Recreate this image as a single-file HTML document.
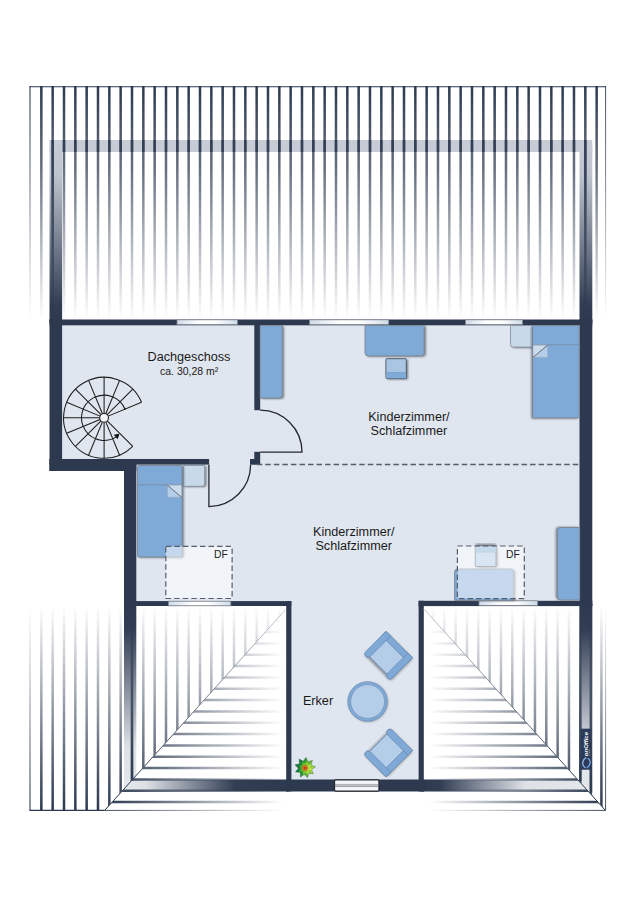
<!DOCTYPE html>
<html lang="de"><head><meta charset="utf-8"><title>Dachgeschoss Grundriss</title>
<style>html,body{margin:0;padding:0;background:#fff}svg{display:block}</style></head>
<body>
<svg width="635" height="900" viewBox="0 0 635 900">
<defs>
<linearGradient id="gTop" gradientUnits="userSpaceOnUse" x1="0" y1="86" x2="0" y2="320"><stop offset="0" stop-color="#2c394f" stop-opacity="1"/><stop offset="0.36" stop-color="#2c394f" stop-opacity="0.72"/><stop offset="1" stop-color="#2c394f" stop-opacity="0"/></linearGradient>
<linearGradient id="gBot" gradientUnits="userSpaceOnUse" x1="0" y1="810" x2="0" y2="606"><stop offset="0" stop-color="#2c394f" stop-opacity="1"/><stop offset="0.15" stop-color="#2c394f" stop-opacity="0.87"/><stop offset="1" stop-color="#2c394f" stop-opacity="0"/></linearGradient>
<linearGradient id="gL" gradientUnits="userSpaceOnUse" x1="105" y1="0" x2="284" y2="0"><stop offset="0" stop-color="#2c394f" stop-opacity="1"/><stop offset="0.15" stop-color="#2c394f" stop-opacity="0.87"/><stop offset="1" stop-color="#2c394f" stop-opacity="0"/></linearGradient>
<linearGradient id="gR" gradientUnits="userSpaceOnUse" x1="606" y1="0" x2="428" y2="0"><stop offset="0" stop-color="#2c394f" stop-opacity="1"/><stop offset="0.15" stop-color="#2c394f" stop-opacity="0.87"/><stop offset="1" stop-color="#2c394f" stop-opacity="0"/></linearGradient>
<linearGradient id="wTop" gradientUnits="userSpaceOnUse" x1="0" y1="146" x2="0" y2="320"><stop offset="0.000" stop-color="#c6cbd5"/><stop offset="0.167" stop-color="#bec4ce"/><stop offset="0.540" stop-color="#798292"/><stop offset="0.914" stop-color="#313d53"/><stop offset="1.000" stop-color="#2c394f"/></linearGradient>
<linearGradient id="wBot" gradientUnits="userSpaceOnUse" x1="0" y1="606" x2="0" y2="790"><stop offset="0.000" stop-color="#2c394f"/><stop offset="0.130" stop-color="#323e54"/><stop offset="0.451" stop-color="#88909e"/><stop offset="0.772" stop-color="#dee2e7"/><stop offset="1.000" stop-color="#e4e7ec"/></linearGradient>
<linearGradient id="wBL" gradientUnits="userSpaceOnUse" x1="124" y1="0" x2="288" y2="0"><stop offset="0.000" stop-color="#e4e7ec"/><stop offset="0.128" stop-color="#dee2e7"/><stop offset="0.402" stop-color="#88909e"/><stop offset="0.677" stop-color="#323e54"/><stop offset="1.000" stop-color="#2c394f"/></linearGradient>
<linearGradient id="wBR" gradientUnits="userSpaceOnUse" x1="422" y1="0" x2="592" y2="0"><stop offset="0.000" stop-color="#2c394f"/><stop offset="0.106" stop-color="#323e54"/><stop offset="0.353" stop-color="#88909e"/><stop offset="0.606" stop-color="#dee2e7"/><stop offset="1.000" stop-color="#e4e7ec"/></linearGradient>
<linearGradient id="win" x1="0" y1="0" x2="1" y2="0"><stop offset="0" stop-color="#cfdbe8"/><stop offset="0.38" stop-color="#ffffff"/><stop offset="0.62" stop-color="#ffffff"/><stop offset="1" stop-color="#cfdbe8"/></linearGradient>
<clipPath id="cLv"><polygon points="0,600 291,600 285.7,609.5 104.7,810.4 104.7,830 0,830"/></clipPath>
<clipPath id="cLh"><polygon points="285.7,609.5 292,609.5 292,830 104.7,830 104.7,810.4"/></clipPath>
<clipPath id="cRv"><polygon points="423.1,608 423.1,600 635,600 635,830 605.6,830 605.6,810.6"/></clipPath>
<clipPath id="cRh"><polygon points="423.1,608 605.6,810.6 605.6,830 415,830 415,608"/></clipPath>
<filter id="sh" x="-20%" y="-20%" width="140%" height="140%"><feGaussianBlur stdDeviation="0.8"/></filter>
</defs>
<rect width="635" height="900" fill="#fff"/>
<rect x="49.5" y="140" width="542.8" height="12" fill="#c6cbd5"/>
<rect x="49.5" y="146" width="12.6" height="176" fill="url(#wTop)"/>
<rect x="579.5" y="146" width="12.8" height="176" fill="url(#wTop)"/>
<rect x="124" y="604" width="12.3" height="187.5" fill="url(#wBot)"/>
<rect x="579.5" y="604" width="12.8" height="187.5" fill="url(#wBot)"/>
<rect x="124" y="779.5" width="164" height="12" fill="url(#wBL)"/>
<rect x="422" y="779.5" width="170.3" height="12" fill="url(#wBR)"/>
<polygon points="55,322 586,322 586,603 421,603 421,785 289,785 289,603 130,603 130,465 55,465" fill="#e0e6ef"/>
<rect x="49.50" y="319.50" width="12.60" height="151.50" fill="#2c394f" />
<rect x="49.50" y="319.50" width="542.80" height="5.80" fill="#2c394f" />
<rect x="579.50" y="319.50" width="12.80" height="286.50" fill="#2c394f" />
<rect x="49.50" y="459.00" width="159.60" height="5.60" fill="#2c394f" />
<rect x="49.50" y="459.00" width="86.80" height="12.00" fill="#2c394f" />
<rect x="124.00" y="459.00" width="12.30" height="147.00" fill="#2c394f" />
<rect x="124.00" y="601.10" width="167.30" height="4.90" fill="#2c394f" />
<rect x="286.20" y="601.10" width="5.20" height="190.40" fill="#2c394f" />
<rect x="286.20" y="779.50" width="138.10" height="12.00" fill="#2c394f" />
<rect x="418.60" y="600.80" width="5.20" height="190.70" fill="#2c394f" />
<rect x="418.60" y="600.80" width="173.70" height="5.30" fill="#2c394f" />
<rect x="254.30" y="325.00" width="5.90" height="85.20" fill="#2c394f" />
<rect x="254.30" y="451.80" width="5.90" height="12.90" fill="#2c394f" />
<rect x="250.00" y="459.00" width="5.00" height="5.70" fill="#2c394f" />
<line x1="30.00" y1="86" x2="30.00" y2="322" stroke="url(#gTop)" stroke-width="1.1"/>
<line x1="41.33" y1="86" x2="41.33" y2="322" stroke="url(#gTop)" stroke-width="2.5"/>
<line x1="52.67" y1="86" x2="52.67" y2="322" stroke="url(#gTop)" stroke-width="2.5"/>
<line x1="64.00" y1="86" x2="64.00" y2="322" stroke="url(#gTop)" stroke-width="2.5"/>
<line x1="75.33" y1="86" x2="75.33" y2="322" stroke="url(#gTop)" stroke-width="2.5"/>
<line x1="86.66" y1="86" x2="86.66" y2="322" stroke="url(#gTop)" stroke-width="2.5"/>
<line x1="98.00" y1="86" x2="98.00" y2="322" stroke="url(#gTop)" stroke-width="2.5"/>
<line x1="109.33" y1="86" x2="109.33" y2="322" stroke="url(#gTop)" stroke-width="2.5"/>
<line x1="120.66" y1="86" x2="120.66" y2="322" stroke="url(#gTop)" stroke-width="2.5"/>
<line x1="132.00" y1="86" x2="132.00" y2="322" stroke="url(#gTop)" stroke-width="2.5"/>
<line x1="143.33" y1="86" x2="143.33" y2="322" stroke="url(#gTop)" stroke-width="2.5"/>
<line x1="154.66" y1="86" x2="154.66" y2="322" stroke="url(#gTop)" stroke-width="2.5"/>
<line x1="166.00" y1="86" x2="166.00" y2="322" stroke="url(#gTop)" stroke-width="2.5"/>
<line x1="177.33" y1="86" x2="177.33" y2="322" stroke="url(#gTop)" stroke-width="2.5"/>
<line x1="188.66" y1="86" x2="188.66" y2="322" stroke="url(#gTop)" stroke-width="2.5"/>
<line x1="200.00" y1="86" x2="200.00" y2="322" stroke="url(#gTop)" stroke-width="2.5"/>
<line x1="211.33" y1="86" x2="211.33" y2="322" stroke="url(#gTop)" stroke-width="2.5"/>
<line x1="222.66" y1="86" x2="222.66" y2="322" stroke="url(#gTop)" stroke-width="2.5"/>
<line x1="233.99" y1="86" x2="233.99" y2="322" stroke="url(#gTop)" stroke-width="2.5"/>
<line x1="245.33" y1="86" x2="245.33" y2="322" stroke="url(#gTop)" stroke-width="2.5"/>
<line x1="256.66" y1="86" x2="256.66" y2="322" stroke="url(#gTop)" stroke-width="2.5"/>
<line x1="267.99" y1="86" x2="267.99" y2="322" stroke="url(#gTop)" stroke-width="2.5"/>
<line x1="279.33" y1="86" x2="279.33" y2="322" stroke="url(#gTop)" stroke-width="2.5"/>
<line x1="290.66" y1="86" x2="290.66" y2="322" stroke="url(#gTop)" stroke-width="2.5"/>
<line x1="301.99" y1="86" x2="301.99" y2="322" stroke="url(#gTop)" stroke-width="2.5"/>
<line x1="313.32" y1="86" x2="313.32" y2="322" stroke="url(#gTop)" stroke-width="2.5"/>
<line x1="324.66" y1="86" x2="324.66" y2="322" stroke="url(#gTop)" stroke-width="2.5"/>
<line x1="335.99" y1="86" x2="335.99" y2="322" stroke="url(#gTop)" stroke-width="2.5"/>
<line x1="347.32" y1="86" x2="347.32" y2="322" stroke="url(#gTop)" stroke-width="2.5"/>
<line x1="358.66" y1="86" x2="358.66" y2="322" stroke="url(#gTop)" stroke-width="2.5"/>
<line x1="369.99" y1="86" x2="369.99" y2="322" stroke="url(#gTop)" stroke-width="2.5"/>
<line x1="381.32" y1="86" x2="381.32" y2="322" stroke="url(#gTop)" stroke-width="2.5"/>
<line x1="392.66" y1="86" x2="392.66" y2="322" stroke="url(#gTop)" stroke-width="2.5"/>
<line x1="403.99" y1="86" x2="403.99" y2="322" stroke="url(#gTop)" stroke-width="2.5"/>
<line x1="415.32" y1="86" x2="415.32" y2="322" stroke="url(#gTop)" stroke-width="2.5"/>
<line x1="426.66" y1="86" x2="426.66" y2="322" stroke="url(#gTop)" stroke-width="2.5"/>
<line x1="437.99" y1="86" x2="437.99" y2="322" stroke="url(#gTop)" stroke-width="2.5"/>
<line x1="449.32" y1="86" x2="449.32" y2="322" stroke="url(#gTop)" stroke-width="2.5"/>
<line x1="460.65" y1="86" x2="460.65" y2="322" stroke="url(#gTop)" stroke-width="2.5"/>
<line x1="471.99" y1="86" x2="471.99" y2="322" stroke="url(#gTop)" stroke-width="2.5"/>
<line x1="483.32" y1="86" x2="483.32" y2="322" stroke="url(#gTop)" stroke-width="2.5"/>
<line x1="494.65" y1="86" x2="494.65" y2="322" stroke="url(#gTop)" stroke-width="2.5"/>
<line x1="505.99" y1="86" x2="505.99" y2="322" stroke="url(#gTop)" stroke-width="2.5"/>
<line x1="517.32" y1="86" x2="517.32" y2="322" stroke="url(#gTop)" stroke-width="2.5"/>
<line x1="528.65" y1="86" x2="528.65" y2="322" stroke="url(#gTop)" stroke-width="2.5"/>
<line x1="539.99" y1="86" x2="539.99" y2="322" stroke="url(#gTop)" stroke-width="2.5"/>
<line x1="551.32" y1="86" x2="551.32" y2="322" stroke="url(#gTop)" stroke-width="2.5"/>
<line x1="562.65" y1="86" x2="562.65" y2="322" stroke="url(#gTop)" stroke-width="2.5"/>
<line x1="573.98" y1="86" x2="573.98" y2="322" stroke="url(#gTop)" stroke-width="2.5"/>
<line x1="585.32" y1="86" x2="585.32" y2="322" stroke="url(#gTop)" stroke-width="2.5"/>
<line x1="596.65" y1="86" x2="596.65" y2="322" stroke="url(#gTop)" stroke-width="2.5"/>
<line x1="605.6" y1="86" x2="605.6" y2="322" stroke="url(#gTop)" stroke-width="0.9"/>
<line x1="52.67" y1="140" x2="52.67" y2="152" stroke="#2c394f" stroke-width="2.5" stroke-opacity="0.8"/>
<line x1="64.00" y1="140" x2="64.00" y2="152" stroke="#2c394f" stroke-width="2.5" stroke-opacity="0.8"/>
<line x1="75.33" y1="140" x2="75.33" y2="152" stroke="#2c394f" stroke-width="2.5" stroke-opacity="0.8"/>
<line x1="86.66" y1="140" x2="86.66" y2="152" stroke="#2c394f" stroke-width="2.5" stroke-opacity="0.8"/>
<line x1="98.00" y1="140" x2="98.00" y2="152" stroke="#2c394f" stroke-width="2.5" stroke-opacity="0.8"/>
<line x1="109.33" y1="140" x2="109.33" y2="152" stroke="#2c394f" stroke-width="2.5" stroke-opacity="0.8"/>
<line x1="120.66" y1="140" x2="120.66" y2="152" stroke="#2c394f" stroke-width="2.5" stroke-opacity="0.8"/>
<line x1="132.00" y1="140" x2="132.00" y2="152" stroke="#2c394f" stroke-width="2.5" stroke-opacity="0.8"/>
<line x1="143.33" y1="140" x2="143.33" y2="152" stroke="#2c394f" stroke-width="2.5" stroke-opacity="0.8"/>
<line x1="154.66" y1="140" x2="154.66" y2="152" stroke="#2c394f" stroke-width="2.5" stroke-opacity="0.8"/>
<line x1="166.00" y1="140" x2="166.00" y2="152" stroke="#2c394f" stroke-width="2.5" stroke-opacity="0.8"/>
<line x1="177.33" y1="140" x2="177.33" y2="152" stroke="#2c394f" stroke-width="2.5" stroke-opacity="0.8"/>
<line x1="188.66" y1="140" x2="188.66" y2="152" stroke="#2c394f" stroke-width="2.5" stroke-opacity="0.8"/>
<line x1="200.00" y1="140" x2="200.00" y2="152" stroke="#2c394f" stroke-width="2.5" stroke-opacity="0.8"/>
<line x1="211.33" y1="140" x2="211.33" y2="152" stroke="#2c394f" stroke-width="2.5" stroke-opacity="0.8"/>
<line x1="222.66" y1="140" x2="222.66" y2="152" stroke="#2c394f" stroke-width="2.5" stroke-opacity="0.8"/>
<line x1="233.99" y1="140" x2="233.99" y2="152" stroke="#2c394f" stroke-width="2.5" stroke-opacity="0.8"/>
<line x1="245.33" y1="140" x2="245.33" y2="152" stroke="#2c394f" stroke-width="2.5" stroke-opacity="0.8"/>
<line x1="256.66" y1="140" x2="256.66" y2="152" stroke="#2c394f" stroke-width="2.5" stroke-opacity="0.8"/>
<line x1="267.99" y1="140" x2="267.99" y2="152" stroke="#2c394f" stroke-width="2.5" stroke-opacity="0.8"/>
<line x1="279.33" y1="140" x2="279.33" y2="152" stroke="#2c394f" stroke-width="2.5" stroke-opacity="0.8"/>
<line x1="290.66" y1="140" x2="290.66" y2="152" stroke="#2c394f" stroke-width="2.5" stroke-opacity="0.8"/>
<line x1="301.99" y1="140" x2="301.99" y2="152" stroke="#2c394f" stroke-width="2.5" stroke-opacity="0.8"/>
<line x1="313.32" y1="140" x2="313.32" y2="152" stroke="#2c394f" stroke-width="2.5" stroke-opacity="0.8"/>
<line x1="324.66" y1="140" x2="324.66" y2="152" stroke="#2c394f" stroke-width="2.5" stroke-opacity="0.8"/>
<line x1="335.99" y1="140" x2="335.99" y2="152" stroke="#2c394f" stroke-width="2.5" stroke-opacity="0.8"/>
<line x1="347.32" y1="140" x2="347.32" y2="152" stroke="#2c394f" stroke-width="2.5" stroke-opacity="0.8"/>
<line x1="358.66" y1="140" x2="358.66" y2="152" stroke="#2c394f" stroke-width="2.5" stroke-opacity="0.8"/>
<line x1="369.99" y1="140" x2="369.99" y2="152" stroke="#2c394f" stroke-width="2.5" stroke-opacity="0.8"/>
<line x1="381.32" y1="140" x2="381.32" y2="152" stroke="#2c394f" stroke-width="2.5" stroke-opacity="0.8"/>
<line x1="392.66" y1="140" x2="392.66" y2="152" stroke="#2c394f" stroke-width="2.5" stroke-opacity="0.8"/>
<line x1="403.99" y1="140" x2="403.99" y2="152" stroke="#2c394f" stroke-width="2.5" stroke-opacity="0.8"/>
<line x1="415.32" y1="140" x2="415.32" y2="152" stroke="#2c394f" stroke-width="2.5" stroke-opacity="0.8"/>
<line x1="426.66" y1="140" x2="426.66" y2="152" stroke="#2c394f" stroke-width="2.5" stroke-opacity="0.8"/>
<line x1="437.99" y1="140" x2="437.99" y2="152" stroke="#2c394f" stroke-width="2.5" stroke-opacity="0.8"/>
<line x1="449.32" y1="140" x2="449.32" y2="152" stroke="#2c394f" stroke-width="2.5" stroke-opacity="0.8"/>
<line x1="460.65" y1="140" x2="460.65" y2="152" stroke="#2c394f" stroke-width="2.5" stroke-opacity="0.8"/>
<line x1="471.99" y1="140" x2="471.99" y2="152" stroke="#2c394f" stroke-width="2.5" stroke-opacity="0.8"/>
<line x1="483.32" y1="140" x2="483.32" y2="152" stroke="#2c394f" stroke-width="2.5" stroke-opacity="0.8"/>
<line x1="494.65" y1="140" x2="494.65" y2="152" stroke="#2c394f" stroke-width="2.5" stroke-opacity="0.8"/>
<line x1="505.99" y1="140" x2="505.99" y2="152" stroke="#2c394f" stroke-width="2.5" stroke-opacity="0.8"/>
<line x1="517.32" y1="140" x2="517.32" y2="152" stroke="#2c394f" stroke-width="2.5" stroke-opacity="0.8"/>
<line x1="528.65" y1="140" x2="528.65" y2="152" stroke="#2c394f" stroke-width="2.5" stroke-opacity="0.8"/>
<line x1="539.99" y1="140" x2="539.99" y2="152" stroke="#2c394f" stroke-width="2.5" stroke-opacity="0.8"/>
<line x1="551.32" y1="140" x2="551.32" y2="152" stroke="#2c394f" stroke-width="2.5" stroke-opacity="0.8"/>
<line x1="562.65" y1="140" x2="562.65" y2="152" stroke="#2c394f" stroke-width="2.5" stroke-opacity="0.8"/>
<line x1="573.98" y1="140" x2="573.98" y2="152" stroke="#2c394f" stroke-width="2.5" stroke-opacity="0.8"/>
<line x1="585.32" y1="140" x2="585.32" y2="152" stroke="#2c394f" stroke-width="2.5" stroke-opacity="0.8"/>
<linearGradient id="gW" gradientUnits="userSpaceOnUse" x1="0" y1="152" x2="0" y2="320"><stop offset="0" stop-color="#2c394f" stop-opacity="0.8"/><stop offset="1" stop-color="#2c394f" stop-opacity="0.3"/></linearGradient>
<line x1="52.67" y1="152" x2="52.67" y2="320" stroke="url(#gW)" stroke-width="2.5"/>
<line x1="585.32" y1="152" x2="585.32" y2="320" stroke="url(#gW)" stroke-width="2.5"/>
<line x1="29.6" y1="86.7" x2="606" y2="86.7" stroke="#2c394f" stroke-width="1.1"/>
<g clip-path="url(#cLv)">
<line x1="30.00" y1="604" x2="30.00" y2="810.4" stroke="url(#gBot)" stroke-width="1.1"/>
<line x1="41.33" y1="604" x2="41.33" y2="810.4" stroke="url(#gBot)" stroke-width="2.5"/>
<line x1="52.67" y1="604" x2="52.67" y2="810.4" stroke="url(#gBot)" stroke-width="2.5"/>
<line x1="64.00" y1="604" x2="64.00" y2="810.4" stroke="url(#gBot)" stroke-width="2.5"/>
<line x1="75.33" y1="604" x2="75.33" y2="810.4" stroke="url(#gBot)" stroke-width="2.5"/>
<line x1="86.66" y1="604" x2="86.66" y2="810.4" stroke="url(#gBot)" stroke-width="2.5"/>
<line x1="98.00" y1="604" x2="98.00" y2="810.4" stroke="url(#gBot)" stroke-width="2.5"/>
<line x1="109.33" y1="604" x2="109.33" y2="810.4" stroke="url(#gBot)" stroke-width="2.5"/>
<line x1="120.66" y1="604" x2="120.66" y2="810.4" stroke="url(#gBot)" stroke-width="2.5"/>
<line x1="132.00" y1="604" x2="132.00" y2="810.4" stroke="url(#gBot)" stroke-width="2.5"/>
<line x1="143.33" y1="604" x2="143.33" y2="810.4" stroke="url(#gBot)" stroke-width="2.5"/>
<line x1="154.66" y1="604" x2="154.66" y2="810.4" stroke="url(#gBot)" stroke-width="2.5"/>
<line x1="166.00" y1="604" x2="166.00" y2="810.4" stroke="url(#gBot)" stroke-width="2.5"/>
<line x1="177.33" y1="604" x2="177.33" y2="810.4" stroke="url(#gBot)" stroke-width="2.5"/>
<line x1="188.66" y1="604" x2="188.66" y2="810.4" stroke="url(#gBot)" stroke-width="2.5"/>
<line x1="200.00" y1="604" x2="200.00" y2="810.4" stroke="url(#gBot)" stroke-width="2.5"/>
<line x1="211.33" y1="604" x2="211.33" y2="810.4" stroke="url(#gBot)" stroke-width="2.5"/>
<line x1="222.66" y1="604" x2="222.66" y2="810.4" stroke="url(#gBot)" stroke-width="2.5"/>
<line x1="233.99" y1="604" x2="233.99" y2="810.4" stroke="url(#gBot)" stroke-width="2.5"/>
<line x1="245.33" y1="604" x2="245.33" y2="810.4" stroke="url(#gBot)" stroke-width="2.5"/>
<line x1="256.66" y1="604" x2="256.66" y2="810.4" stroke="url(#gBot)" stroke-width="2.5"/>
<line x1="267.99" y1="604" x2="267.99" y2="810.4" stroke="url(#gBot)" stroke-width="2.5"/>
<line x1="279.33" y1="604" x2="279.33" y2="810.4" stroke="url(#gBot)" stroke-width="2.5"/>
<line x1="29.6" y1="810.4" x2="105" y2="810.4" stroke="#2c394f" stroke-width="1.1"/>
</g>
<linearGradient id="gW2" gradientUnits="userSpaceOnUse" x1="0" y1="606" x2="0" y2="780"><stop offset="0" stop-color="#2c394f" stop-opacity="0.3"/><stop offset="1" stop-color="#2c394f" stop-opacity="0.8"/></linearGradient>
<line x1="132.00" y1="606" x2="132.00" y2="781" stroke="url(#gW2)" stroke-width="2.5"/>
<line x1="580.3" y1="606" x2="580.3" y2="781" stroke="url(#gW2)" stroke-width="2.5"/>
<line x1="590.9" y1="606" x2="590.9" y2="792" stroke="url(#gW2)" stroke-width="2.5"/>
<g clip-path="url(#cLh)">
<line x1="100" y1="620.74" x2="292" y2="620.74" stroke="url(#gL)" stroke-width="2.5"/>
<line x1="100" y1="632.07" x2="292" y2="632.07" stroke="url(#gL)" stroke-width="2.5"/>
<line x1="100" y1="643.40" x2="292" y2="643.40" stroke="url(#gL)" stroke-width="2.5"/>
<line x1="100" y1="654.74" x2="292" y2="654.74" stroke="url(#gL)" stroke-width="2.5"/>
<line x1="100" y1="666.07" x2="292" y2="666.07" stroke="url(#gL)" stroke-width="2.5"/>
<line x1="100" y1="677.40" x2="292" y2="677.40" stroke="url(#gL)" stroke-width="2.5"/>
<line x1="100" y1="688.74" x2="292" y2="688.74" stroke="url(#gL)" stroke-width="2.5"/>
<line x1="100" y1="700.07" x2="292" y2="700.07" stroke="url(#gL)" stroke-width="2.5"/>
<line x1="100" y1="711.40" x2="292" y2="711.40" stroke="url(#gL)" stroke-width="2.5"/>
<line x1="100" y1="722.74" x2="292" y2="722.74" stroke="url(#gL)" stroke-width="2.5"/>
<line x1="100" y1="734.07" x2="292" y2="734.07" stroke="url(#gL)" stroke-width="2.5"/>
<line x1="100" y1="745.40" x2="292" y2="745.40" stroke="url(#gL)" stroke-width="2.5"/>
<line x1="100" y1="756.73" x2="292" y2="756.73" stroke="url(#gL)" stroke-width="2.5"/>
<line x1="100" y1="768.07" x2="292" y2="768.07" stroke="url(#gL)" stroke-width="2.5"/>
<line x1="100" y1="779.40" x2="292" y2="779.40" stroke="url(#gL)" stroke-width="2.5"/>
<line x1="100" y1="790.73" x2="292" y2="790.73" stroke="url(#gL)" stroke-width="2.5"/>
<line x1="100" y1="802.07" x2="292" y2="802.07" stroke="url(#gL)" stroke-width="2.5"/>
<line x1="100" y1="810.4" x2="292" y2="810.4" stroke="url(#gL)" stroke-width="0.9"/>
</g>
<line x1="104.7" y1="810.4" x2="285.7" y2="609.5" stroke="#b3b8c1" stroke-width="0.7"/>
<line x1="104.7" y1="810.4" x2="285.7" y2="609.5" stroke="url(#gBot)" stroke-width="1"/>
<g clip-path="url(#cRv)">
<line x1="580.30" y1="604" x2="580.30" y2="810.4" stroke="url(#gBot)" stroke-width="2.5"/>
<line x1="568.97" y1="604" x2="568.97" y2="810.4" stroke="url(#gBot)" stroke-width="2.5"/>
<line x1="557.63" y1="604" x2="557.63" y2="810.4" stroke="url(#gBot)" stroke-width="2.5"/>
<line x1="546.30" y1="604" x2="546.30" y2="810.4" stroke="url(#gBot)" stroke-width="2.5"/>
<line x1="534.97" y1="604" x2="534.97" y2="810.4" stroke="url(#gBot)" stroke-width="2.5"/>
<line x1="523.63" y1="604" x2="523.63" y2="810.4" stroke="url(#gBot)" stroke-width="2.5"/>
<line x1="512.30" y1="604" x2="512.30" y2="810.4" stroke="url(#gBot)" stroke-width="2.5"/>
<line x1="500.97" y1="604" x2="500.97" y2="810.4" stroke="url(#gBot)" stroke-width="2.5"/>
<line x1="489.64" y1="604" x2="489.64" y2="810.4" stroke="url(#gBot)" stroke-width="2.5"/>
<line x1="478.30" y1="604" x2="478.30" y2="810.4" stroke="url(#gBot)" stroke-width="2.5"/>
<line x1="466.97" y1="604" x2="466.97" y2="810.4" stroke="url(#gBot)" stroke-width="2.5"/>
<line x1="455.64" y1="604" x2="455.64" y2="810.4" stroke="url(#gBot)" stroke-width="2.5"/>
<line x1="444.30" y1="604" x2="444.30" y2="810.4" stroke="url(#gBot)" stroke-width="2.5"/>
<line x1="432.97" y1="604" x2="432.97" y2="810.4" stroke="url(#gBot)" stroke-width="2.5"/>
<line x1="590.90" y1="604" x2="590.90" y2="810.4" stroke="url(#gBot)" stroke-width="2.5"/>
<line x1="601.40" y1="604" x2="601.40" y2="810.4" stroke="url(#gBot)" stroke-width="2.5"/>
<line x1="605.6" y1="604" x2="605.6" y2="810.4" stroke="url(#gBot)" stroke-width="0.9"/>
</g>
<g clip-path="url(#cRh)">
<line x1="415" y1="620.74" x2="610" y2="620.74" stroke="url(#gR)" stroke-width="2.5"/>
<line x1="415" y1="632.07" x2="610" y2="632.07" stroke="url(#gR)" stroke-width="2.5"/>
<line x1="415" y1="643.40" x2="610" y2="643.40" stroke="url(#gR)" stroke-width="2.5"/>
<line x1="415" y1="654.74" x2="610" y2="654.74" stroke="url(#gR)" stroke-width="2.5"/>
<line x1="415" y1="666.07" x2="610" y2="666.07" stroke="url(#gR)" stroke-width="2.5"/>
<line x1="415" y1="677.40" x2="610" y2="677.40" stroke="url(#gR)" stroke-width="2.5"/>
<line x1="415" y1="688.74" x2="610" y2="688.74" stroke="url(#gR)" stroke-width="2.5"/>
<line x1="415" y1="700.07" x2="610" y2="700.07" stroke="url(#gR)" stroke-width="2.5"/>
<line x1="415" y1="711.40" x2="610" y2="711.40" stroke="url(#gR)" stroke-width="2.5"/>
<line x1="415" y1="722.74" x2="610" y2="722.74" stroke="url(#gR)" stroke-width="2.5"/>
<line x1="415" y1="734.07" x2="610" y2="734.07" stroke="url(#gR)" stroke-width="2.5"/>
<line x1="415" y1="745.40" x2="610" y2="745.40" stroke="url(#gR)" stroke-width="2.5"/>
<line x1="415" y1="756.73" x2="610" y2="756.73" stroke="url(#gR)" stroke-width="2.5"/>
<line x1="415" y1="768.07" x2="610" y2="768.07" stroke="url(#gR)" stroke-width="2.5"/>
<line x1="415" y1="779.40" x2="610" y2="779.40" stroke="url(#gR)" stroke-width="2.5"/>
<line x1="415" y1="790.73" x2="610" y2="790.73" stroke="url(#gR)" stroke-width="2.5"/>
<line x1="415" y1="802.07" x2="610" y2="802.07" stroke="url(#gR)" stroke-width="2.5"/>
<line x1="415" y1="810.4" x2="606" y2="810.4" stroke="url(#gR)" stroke-width="0.9"/>
</g>
<line x1="605.6" y1="810.6" x2="423.6" y2="608.6" stroke="#b3b8c1" stroke-width="0.7"/>
<line x1="605.6" y1="810.6" x2="423.6" y2="608.6" stroke="url(#gBot)" stroke-width="1"/>
<rect x="177.00" y="319.80" width="60.40" height="4.80" fill="url(#win)" stroke="#7f858f" stroke-width="0.8"/>
<rect x="309.60" y="319.80" width="79.10" height="4.80" fill="url(#win)" stroke="#7f858f" stroke-width="0.8"/>
<rect x="465.60" y="319.80" width="56.90" height="4.80" fill="url(#win)" stroke="#7f858f" stroke-width="0.8"/>
<rect x="168.40" y="601.20" width="62.40" height="4.60" fill="url(#win)" stroke="#7f858f" stroke-width="0.8"/>
<rect x="479.00" y="600.80" width="58.60" height="4.60" fill="url(#win)" stroke="#7f858f" stroke-width="0.8"/>
<linearGradient id="bw" x1="0" y1="0" x2="0" y2="1"><stop offset="0" stop-color="#fff"/><stop offset="0.4" stop-color="#eceef1"/><stop offset="0.5" stop-color="#d9dce1"/><stop offset="0.6" stop-color="#eceef1"/><stop offset="1" stop-color="#fff"/></linearGradient>
<rect x="334.6" y="779.9" width="44.3" height="11.2" rx="1" fill="url(#bw)" stroke="#20242c" stroke-width="1.1"/>
<line x1="335.2" y1="784.8" x2="378.4" y2="784.8" stroke="#777c86" stroke-width="0.7"/>
<line x1="335.2" y1="786.4" x2="378.4" y2="786.4" stroke="#777c86" stroke-width="0.7"/>
<line x1="256.76" y1="464.5" x2="580" y2="464.5" stroke="#555c6a" stroke-width="1.3" stroke-dasharray="5.5 3.04"/>
<path d="M260.2 452.2 H302 A42 42 0 0 0 260.2 410.2" fill="none" stroke="#23272e" stroke-width="1.3"/>
<path d="M208.9 464.7 V506.6 A42 42 0 0 0 250.6 464.7" fill="none" stroke="#23272e" stroke-width="1.3"/>
<path d="M261.90 326.40 H284.00 V395.90 A3 3 0 0 1 281.00 398.90 H261.90 V326.40 Z" fill="#4f5865" opacity="0.75" filter="url(#sh)"/>
<path d="M260.20 325.60 H282.30 V395.10 A3 3 0 0 1 279.30 398.10 H260.20 V325.60 Z" fill="#7fa9d7" stroke="#7d8692" stroke-width="0.9"/>
<path d="M366.70 326.30 H425.90 V353.70 A3 3 0 0 1 422.90 356.70 H369.70 A3 3 0 0 1 366.70 353.70 V326.30 Z" fill="#4f5865" opacity="0.75" filter="url(#sh)"/>
<path d="M365.00 325.50 H424.20 V352.90 A3 3 0 0 1 421.20 355.90 H368.00 A3 3 0 0 1 365.00 352.90 V325.50 Z" fill="#7fa9d7" stroke="#7d8692" stroke-width="0.9"/>
<path d="M388.60 359.50 H407.00 A1 1 0 0 1 408.00 360.50 V378.40 A1 1 0 0 1 407.00 379.40 H388.60 A1 1 0 0 1 387.60 378.40 V360.50 A1 1 0 0 1 388.60 359.50 Z" fill="#4f5865" opacity="0.75" filter="url(#sh)"/>
<path d="M386.90 358.70 H405.30 A1 1 0 0 1 406.30 359.70 V377.60 A1 1 0 0 1 405.30 378.60 H386.90 A1 1 0 0 1 385.90 377.60 V359.70 A1 1 0 0 1 386.90 358.70 Z" fill="#a9c5e4" stroke="#4a5260" stroke-width="0.9"/>
<rect x="386.3" y="372.5" width="19.6" height="5.8" fill="#80aad8"/>
<line x1="386.3" y1="372.5" x2="405.9" y2="372.5" stroke="#6f8fb5" stroke-width="0.5"/>
<path d="M512.20 326.30 H534.30 V347.90 H514.70 A2.5 2.5 0 0 1 512.20 345.40 V326.30 Z" fill="#4f5865" opacity="0.75" filter="url(#sh)"/>
<path d="M510.50 325.50 H532.60 V347.10 H513.00 A2.5 2.5 0 0 1 510.50 344.60 V325.50 Z" fill="#c8d9ea" stroke="#8a929e" stroke-width="0.9"/>
<path d="M532.30 326.30 H576.90 A1 1 0 0 1 577.90 327.30 V417.70 A1 1 0 0 1 576.90 418.70 H532.30 A1 1 0 0 1 531.30 417.70 V327.30 A1 1 0 0 1 532.30 326.30 Z" fill="#4f5865" opacity="0.75" filter="url(#sh)"/>
<path d="M533.60 325.50 H578.20 A1 1 0 0 1 579.20 326.50 V416.90 A1 1 0 0 1 578.20 417.90 H533.60 A1 1 0 0 1 532.60 416.90 V326.50 A1 1 0 0 1 533.60 325.50 Z" fill="#7fa9d7" stroke="#7d8692" stroke-width="0.9"/>
<line x1="532.6" y1="344.8" x2="579.2" y2="344.8" stroke="#7a8797" stroke-width="0.7"/>
<polygon points="533,344.8 547.7,344.8 547.7,357.4 533,357.4" fill="#b4cde8"/>
<polygon points="533,345.2 547.7,345.2 533,357.4" fill="#cddcec" stroke="#8a97a8" stroke-width="0.5"/>
<polygon points="547.7,345.2 547.7,357.4 533,357.4" fill="#b4cde8" stroke="#8a97a8" stroke-width="0.5"/>
<line x1="547.7" y1="345.2" x2="533" y2="357.4" stroke="#5f6a78" stroke-width="0.8"/>
<path d="M184.70 466.30 H206.40 V484.60 A2.5 2.5 0 0 1 203.90 487.10 H184.70 V466.30 Z" fill="#4f5865" opacity="0.75" filter="url(#sh)"/>
<path d="M183.00 465.50 H204.70 V483.80 A2.5 2.5 0 0 1 202.20 486.30 H183.00 V465.50 Z" fill="#c8d9ea" stroke="#8a929e" stroke-width="0.9"/>
<path d="M140.20 466.30 H182.80 A1 1 0 0 1 183.80 467.30 V556.80 A1 1 0 0 1 182.80 557.80 H140.20 A1 1 0 0 1 139.20 556.80 V467.30 A1 1 0 0 1 140.20 466.30 Z" fill="#4f5865" opacity="0.75" filter="url(#sh)"/>
<path d="M138.50 465.50 H181.10 A1 1 0 0 1 182.10 466.50 V556.00 A1 1 0 0 1 181.10 557.00 H138.50 A1 1 0 0 1 137.50 556.00 V466.50 A1 1 0 0 1 138.50 465.50 Z" fill="#7fa9d7" stroke="#7d8692" stroke-width="0.9"/>
<line x1="137.5" y1="484.8" x2="182.1" y2="484.8" stroke="#7a8797" stroke-width="0.7"/>
<polygon points="167.4,484.8 181.6,484.8 181.6,497.3 167.4,497.3" fill="#b4cde8"/>
<polygon points="167.4,485.2 181.6,485.2 181.6,497.3" fill="#cddcec" stroke="#8a97a8" stroke-width="0.5"/>
<polygon points="167.4,485.2 181.6,497.3 167.4,497.3" fill="#b4cde8" stroke="#8a97a8" stroke-width="0.5"/>
<line x1="167.4" y1="485.2" x2="181.6" y2="497.3" stroke="#5f6a78" stroke-width="0.8"/>
<path d="M558.80 526.90 H578.00 V599.50 H558.80 A3 3 0 0 1 555.80 596.50 V529.90 A3 3 0 0 1 558.80 526.90 Z" fill="#4f5865" opacity="0.75" filter="url(#sh)"/>
<path d="M560.50 527.50 H579.70 V600.10 H560.50 A3 3 0 0 1 557.50 597.10 V530.50 A3 3 0 0 1 560.50 527.50 Z" fill="#7fa9d7" stroke="#7d8692" stroke-width="0.9"/>
<path d="M459.30 569.80 H512.20 A3 3 0 0 1 515.20 572.80 V601.10 H456.30 V572.80 A3 3 0 0 1 459.30 569.80 Z" fill="#4f5865" opacity="0.75" filter="url(#sh)"/>
<path d="M457.60 569.00 H510.50 A3 3 0 0 1 513.50 572.00 V600.30 H454.60 V572.00 A3 3 0 0 1 457.60 569.00 Z" fill="#7fa9d7" stroke="#7d8692" stroke-width="0.9"/>
<path d="M478.00 546.80 H496.70 A1 1 0 0 1 497.70 547.80 V566.40 A1 1 0 0 1 496.70 567.40 H478.00 A1 1 0 0 1 477.00 566.40 V547.80 A1 1 0 0 1 478.00 546.80 Z" fill="#4f5865" opacity="0.75" filter="url(#sh)"/>
<path d="M476.30 546.00 H495.00 A1 1 0 0 1 496.00 547.00 V565.60 A1 1 0 0 1 495.00 566.60 H476.30 A1 1 0 0 1 475.30 565.60 V547.00 A1 1 0 0 1 476.30 546.00 Z" fill="#a9c5e4" stroke="#4a5260" stroke-width="0.9"/>
<rect x="475.8" y="546.4" width="19.7" height="5.6" fill="#80aad8"/>
<line x1="475.8" y1="552.2" x2="495.5" y2="552.2" stroke="#6f8fb5" stroke-width="0.6"/>
<rect x="475.5" y="543.6" width="20.2" height="2.6" fill="#3c434f" opacity="0.55" filter="url(#sh)"/>
<rect x="165.8" y="546.4" width="66.3" height="52.1" fill="#ffffff" fill-opacity="0.55" stroke="#555c6a" stroke-width="1.2" stroke-dasharray="5.5 3.04"/>
<rect x="457.4" y="546" width="66.9" height="52.6" fill="#ffffff" fill-opacity="0.55" stroke="#555c6a" stroke-width="1.2" stroke-dasharray="5.5 3.04"/>
<text x="214" y="557.8" font-family='"Liberation Sans", Arial, sans-serif' font-size="10.3" fill="#1a1a1a">DF</text>
<text x="506" y="557.8" font-family='"Liberation Sans", Arial, sans-serif' font-size="10.3" fill="#1a1a1a">DF</text>
<circle cx="368.2" cy="702.2" r="20" fill="#707884" opacity="0.5" filter="url(#sh)"/>
<circle cx="367.6" cy="701.5" r="19.8" fill="#7fa9d7" stroke="#6d8bb3" stroke-width="0.7"/>
<circle cx="367.6" cy="701.5" r="16.9" fill="#b4cde8" stroke="#6d8bb3" stroke-width="0.6"/>
<g transform="translate(388.7,656.8) rotate(45)"><rect x="-18.7" y="-16.0" width="37.4" height="32.0" rx="3" fill="#5c6470" opacity="0.6" filter="url(#sh)"/></g>
<g transform="translate(387.9,655.9) rotate(45)">
<rect x="-13.7" y="-11.0" width="27.4" height="24.5" fill="#b4cde8" stroke="#6784ad" stroke-width="0.7"/>
<rect x="-18.7" y="-16.0" width="37.4" height="6.2" fill="#7fa9d7" stroke="#6784ad" stroke-width="0.7"/>
<path d="M-18.7 -16.0 h6.6 v28.7 a3.3 3.3 0 0 1 -6.6 0 z" fill="#7fa9d7" stroke="#6784ad" stroke-width="0.7"/>
<path d="M18.7 -16.0 h-6.6 v28.7 a3.3 3.3 0 0 0 6.6 0 z" fill="#7fa9d7" stroke="#6784ad" stroke-width="0.7"/>
</g>
<g transform="translate(388.7,753.1999999999999) rotate(135)"><rect x="-18.7" y="-16.0" width="37.4" height="32.0" rx="3" fill="#5c6470" opacity="0.6" filter="url(#sh)"/></g>
<g transform="translate(387.9,752.3) rotate(135)">
<rect x="-13.7" y="-11.0" width="27.4" height="24.5" fill="#b4cde8" stroke="#6784ad" stroke-width="0.7"/>
<rect x="-18.7" y="-16.0" width="37.4" height="6.2" fill="#7fa9d7" stroke="#6784ad" stroke-width="0.7"/>
<path d="M-18.7 -16.0 h6.6 v28.7 a3.3 3.3 0 0 1 -6.6 0 z" fill="#7fa9d7" stroke="#6784ad" stroke-width="0.7"/>
<path d="M18.7 -16.0 h-6.6 v28.7 a3.3 3.3 0 0 0 6.6 0 z" fill="#7fa9d7" stroke="#6784ad" stroke-width="0.7"/>
</g>
<linearGradient id="pl" x1="0" y1="0" x2="1" y2="0.2"><stop offset="0" stop-color="#0a5f4a"/><stop offset="0.45" stop-color="#238f33"/><stop offset="1" stop-color="#b9e23c"/></linearGradient>
<linearGradient id="pl2" x1="0" y1="0" x2="1" y2="0.2"><stop offset="0" stop-color="#1f8a3c"/><stop offset="0.5" stop-color="#6cc22e"/><stop offset="1" stop-color="#cfe94a"/></linearGradient>
<polygon points="306.0,757.4 307.9,761.8 312.4,760.4 311.0,765.0 315.4,766.9 311.4,769.5 313.4,773.8 308.7,773.2 307.6,777.8 304.3,774.3 300.5,777.1 300.3,772.3 295.5,772.0 298.4,768.2 295.0,764.9 299.6,763.8 299.1,759.1 303.4,761.3" fill="url(#pl)" stroke="#17522b" stroke-width="0.4"/>
<polygon points="312.3,770.0 308.9,770.8 308.8,774.3 305.8,772.5 303.3,774.8 302.5,771.4 299.0,771.3 300.8,768.3 298.5,765.8 301.9,765.0 302.0,761.5 305.0,763.3 307.5,761.0 308.3,764.4 311.8,764.5 310.0,767.5" fill="url(#pl2)"/>
<circle cx="305" cy="768" r="2.9" fill="#d2701c"/><circle cx="305" cy="768" r="1.3" fill="#b8451a"/>
<path d="M141.52 402.30 A40.5 40.5 0 1 0 132.74 446.44" stroke="#1c1c1c" stroke-width="1.05" fill="none"/>
<path d="M124.98 409.15 A22.6 22.6 0 1 0 118.63 435.11" stroke="#1c1c1c" stroke-width="1.05" fill="none"/>
<line x1="108.17" y1="416.12" x2="141.52" y2="402.30" stroke="#1c1c1c" stroke-width="1.05" fill="none"/>
<line x1="107.21" y1="414.69" x2="132.74" y2="389.16" stroke="#1c1c1c" stroke-width="1.05" fill="none"/>
<line x1="105.78" y1="413.73" x2="119.60" y2="380.38" stroke="#1c1c1c" stroke-width="1.05" fill="none"/>
<line x1="104.10" y1="413.40" x2="104.10" y2="377.30" stroke="#1c1c1c" stroke-width="1.05" fill="none"/>
<line x1="102.42" y1="413.73" x2="88.60" y2="380.38" stroke="#1c1c1c" stroke-width="1.05" fill="none"/>
<line x1="100.99" y1="414.69" x2="75.46" y2="389.16" stroke="#1c1c1c" stroke-width="1.05" fill="none"/>
<line x1="100.03" y1="416.12" x2="66.68" y2="402.30" stroke="#1c1c1c" stroke-width="1.05" fill="none"/>
<line x1="99.70" y1="417.80" x2="63.60" y2="417.80" stroke="#1c1c1c" stroke-width="1.05" fill="none"/>
<line x1="100.03" y1="419.48" x2="66.68" y2="433.30" stroke="#1c1c1c" stroke-width="1.05" fill="none"/>
<line x1="100.99" y1="420.91" x2="75.46" y2="446.44" stroke="#1c1c1c" stroke-width="1.05" fill="none"/>
<line x1="102.42" y1="421.87" x2="88.60" y2="455.22" stroke="#1c1c1c" stroke-width="1.05" fill="none"/>
<line x1="104.10" y1="422.20" x2="104.10" y2="458.30" stroke="#1c1c1c" stroke-width="1.05" fill="none"/>
<line x1="105.78" y1="421.87" x2="119.60" y2="455.22" stroke="#1c1c1c" stroke-width="1.05" fill="none"/>
<line x1="107.21" y1="420.91" x2="132.74" y2="446.44" stroke="#1c1c1c" stroke-width="1.05" fill="none"/>
<circle cx="104.1" cy="417.8" r="4.4" fill="#f3f5f9" stroke="#1c1c1c" stroke-width="1.05"/>
<circle cx="124.83" cy="408.79" r="1" fill="#1c1c1c"/>
<polygon points="119.33,433.66 113.73,434.86 117.73,439.26" fill="#111"/>
<rect x="580.6" y="728.7" width="10.6" height="41" fill="#2a3a58"/>
<text transform="translate(588.2,756.2) rotate(-90)" font-family='"Liberation Sans", Arial, sans-serif' font-size="6" font-weight="bold" font-style="italic" fill="#fff">onOffice</text>
<text transform="translate(589.9,756) rotate(-90)" font-family='"Liberation Sans", Arial, sans-serif' font-size="1.8" fill="#dfe6f2">software</text>
<path d="M585 767.4 q-2.9 -1.4 -2.2 -5.2 q0.6 -3 2.8 -4.3" stroke="#8fb5e8" stroke-width="1.4" stroke-linecap="round" fill="none"/>
<path d="M588 758.4 q2.6 1.3 2 4.8 q-0.6 3.1 -2.8 4.4" stroke="#6f9fdc" stroke-width="1.4" stroke-linecap="round" fill="none"/>
<text x="189" y="360.8" text-anchor="middle" font-family='"Liberation Sans", Arial, sans-serif' font-size="12.65" fill="#1a1a1a">Dachgeschoss</text>
<text x="189.2" y="374.6" text-anchor="middle" font-family='"Liberation Sans", Arial, sans-serif' font-size="10.5" fill="#1a1a1a">ca. 30,28 m²</text>
<text x="408.9" y="420.8" text-anchor="middle" font-family='"Liberation Sans", Arial, sans-serif' font-size="12.65" fill="#1a1a1a">Kinderzimmer/</text>
<text x="408.9" y="434.6" text-anchor="middle" font-family='"Liberation Sans", Arial, sans-serif' font-size="12.65" fill="#1a1a1a">Schlafzimmer</text>
<text x="353.7" y="536.4" text-anchor="middle" font-family='"Liberation Sans", Arial, sans-serif' font-size="12.65" fill="#1a1a1a">Kinderzimmer/</text>
<text x="353.7" y="550.2" text-anchor="middle" font-family='"Liberation Sans", Arial, sans-serif' font-size="12.65" fill="#1a1a1a">Schlafzimmer</text>
<text x="318" y="705.4" text-anchor="middle" font-family='"Liberation Sans", Arial, sans-serif' font-size="12.65" fill="#1a1a1a">Erker</text>
</svg>
</body></html>
